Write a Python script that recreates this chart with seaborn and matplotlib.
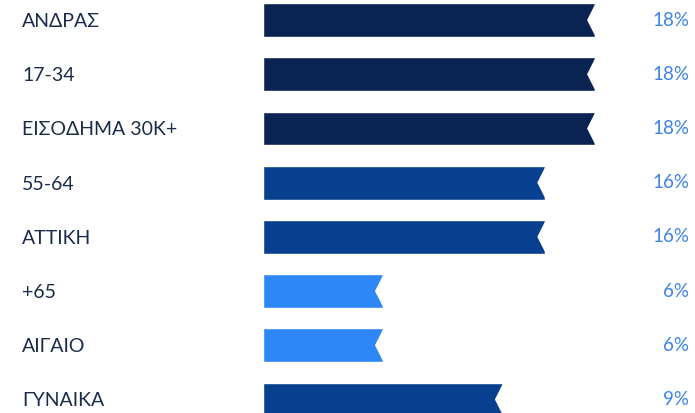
import matplotlib
matplotlib.use("Agg")
import pandas as pd
import seaborn as sns
import matplotlib.pyplot as plt
from matplotlib.patches import Polygon
from matplotlib.transforms import blended_transform_factory

# categories and values
categories = ['ΑΝΔΡΑΣ', '17-34', 'ΕΙΣΟΔΗΜΑ 30Κ+', '55-64', 'ΑΤΤΙΚΗ', '+65', 'ΑΙΓΑΙΟ', 'ΓΥΝΑΙΚΑ']
pct_labels = ['18%', '18%', '18%', '16%', '16%', '6%', '6%', '9%']
# bar lengths as drawn (not proportional to the labels in the picture)
bar_len = [18, 18, 18, 15.3, 15.3, 6.5, 6.5, 13.0]
bar_color = ['#0b2352', '#0b2352', '#0b2352', '#083f8e', '#083f8e',
             '#2d87f6', '#2d87f6', '#083f8e']

df = pd.DataFrame({'cat': categories, 'val': bar_len})

sns.set_style("white")
plt.rcParams['font.family'] = ['Lato', 'DejaVu Sans']

fig = plt.figure(figsize=(6.95, 4.13), dpi=100)
ax = fig.add_axes([263 / 695, 0, 332 / 695, 1])

sns.barplot(data=df, x='val', y='cat', hue='cat', palette=bar_color,
            legend=False, width=0.625, saturation=1, ax=ax)

ax.set_xlim(0, 18)
ax.set_ylim(7.25, -0.37)

# notch at the right end of every bar
notch = 0.43
for p in ax.patches:
    x1 = p.get_x() + p.get_width()
    y0 = p.get_y()
    h = p.get_height()
    tri = Polygon([(x1 + 0.05, y0 - 0.01), (x1 - notch, y0 + h / 2), (x1 + 0.05, y0 + h + 0.01)],
                  closed=True, facecolor='white', edgecolor='none', clip_on=False, zorder=5)
    ax.add_patch(tri)
    p.set_clip_on(False)

# left labels
ax.set_xlabel('')
ax.set_ylabel('')
ax.set_xticks([])
ax.tick_params(axis='y', length=0, pad=241 * 72 / 100)
for lab in ax.get_yticklabels():
    lab.set_horizontalalignment('left')
    lab.set_fontsize(14)
    lab.set_color('#1b2b4b')

# percentage labels on the right
trans = blended_transform_factory(fig.transFigure, ax.transData)
for i, t in enumerate(pct_labels):
    ax.text(689 / 695, i, t, transform=trans, ha='right', va='center',
            fontsize=13.5, color='#3b84e6')

sns.despine(ax=ax, left=True, bottom=True)

fig.savefig('out.png', dpi=100)
